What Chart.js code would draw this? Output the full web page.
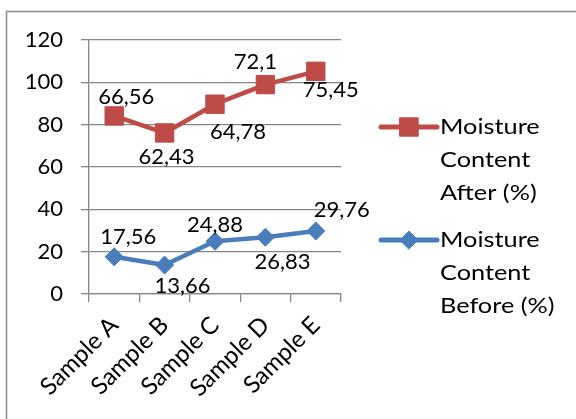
<!DOCTYPE html>
<html>
<head>
<meta charset="utf-8">
<script src="https://cdn.jsdelivr.net/npm/chart.js@4/dist/chart.umd.min.js"></script>
<style>
  html, body { margin: 0; padding: 0; background: #fff; }
  #wrap { width: 576px; height: 419px; position: relative; overflow: hidden; }
</style>
</head>
<body>
<div id="wrap"><canvas id="c" width="576" height="419"></canvas></div>
<script>
// Moisture content of five samples, before and after treatment (%)
const categories = ['Sample A', 'Sample B', 'Sample C', 'Sample D', 'Sample E'];
const moistureBefore = [17.56, 13.66, 24.88, 26.83, 29.76];
const moistureAfter = [66.56, 62.43, 64.78, 72.1, 75.45];
const yTicks = [0, 20, 40, 60, 80, 100, 120];
const nameBefore = ['Moisture', 'Content', 'Before (%)'];
const nameAfter = ['Moisture', 'Content', 'After (%)'];

// Value-label placement around each point (pixels from the point centre)
const labelShiftBefore = [[14, -20], [18, 21], [0, -16], [17, 25], [26, -21]];
const labelShiftAfter = [[12, -19], [2, 24], [23, 28], [-10, -23], [15, 19]];

const FAMILY = 'Lato, "Noto Sans", sans-serif';
const FONT = { family: FAMILY, size: 22 };
const WORD_FONT = { family: FAMILY, size: 24 };
const TEXT = '#000000';
const GRID = '#868686';
const RED = '#BE4B48';
const BLUE = '#4A7EBB';

const fmt = v => String(v).replace('.', ',');

// Grey frame around the whole chart
const framePlugin = {
  id: 'frame',
  beforeDraw(chart) {
    const ctx = chart.ctx;
    ctx.save();
    ctx.strokeStyle = '#8c8c8c';
    ctx.lineWidth = 1.5;
    ctx.strokeRect(6.5, 11.5, 700, 600);
    ctx.restore();
  }
};

// Value labels next to the points
const valueLabels = {
  id: 'valueLabels',
  afterDatasetsDraw(chart) {
    const ctx = chart.ctx;
    ctx.save();
    ctx.font = `${FONT.size}px ${FONT.family}`;
    ctx.fillStyle = TEXT;
    ctx.textAlign = 'center';
    ctx.textBaseline = 'middle';
    chart.data.datasets.forEach((ds, di) => {
      const meta = chart.getDatasetMeta(di);
      meta.data.forEach((pt, i) => {
        const [dx, dy] = ds.labelShift[i];
        ctx.fillText(fmt(ds.data[i]), pt.x + dx, pt.y + dy);
      });
    });
    ctx.restore();
  }
};

// Legend on the right with wrapped series names (stack top first)
const sideLegend = {
  id: 'sideLegend',
  afterDraw(chart) {
    const ctx = chart.ctx;
    const order = [1, 0];
    const x0 = 381, x1 = 437, tx = 440;
    const tops = [127, 240];
    const lineH = 33;
    const stretch = 1.15;
    ctx.save();
    order.forEach((di, k) => {
      const ds = chart.data.datasets[di];
      const y = tops[k];
      ctx.strokeStyle = ds.borderColor;
      ctx.lineWidth = ds.borderWidth + 0.5;
      ctx.lineCap = 'round';
      ctx.beginPath();
      ctx.moveTo(x0, y);
      ctx.lineTo(x1, y);
      ctx.stroke();
      ctx.fillStyle = ds.pointBackgroundColor;
      ctx.strokeStyle = ds.pointBorderColor;
      ctx.lineWidth = ds.pointBorderWidth;
      Chart.helpers.drawPoint(ctx, { pointStyle: ds.pointStyle, radius: ds.pointRadius, rotation: 0, borderWidth: ds.pointBorderWidth }, (x0 + x1) / 2, y);
      ctx.fillStyle = TEXT;
      ctx.font = `${FONT.size}px ${FONT.family}`;
      ctx.textAlign = 'left';
      ctx.textBaseline = 'middle';
      ds.legendLines.forEach((t, j) => {
        ctx.save();
        ctx.translate(tx, y + j * lineH);
        ctx.scale(stretch, 1);
        ctx.fillText(t, 0, 0);
        ctx.restore();
      });
    });
    ctx.restore();
  }
};

new Chart(document.getElementById('c'), {
  type: 'line',
  data: {
    labels: categories,
    datasets: [
      {
        label: nameBefore.join(' '),
        legendLines: nameBefore,
        labelShift: labelShiftBefore,
        data: moistureBefore,
        borderColor: BLUE,
        backgroundColor: BLUE,
        borderWidth: 4.5,
        borderJoinStyle: 'round',
        pointStyle: 'rectRot',
        pointRadius: 9,
        pointBackgroundColor: BLUE,
        pointBorderColor: BLUE,
        pointBorderWidth: 1,
        fill: false,
        tension: 0
      },
      {
        label: nameAfter.join(' '),
        legendLines: nameAfter,
        labelShift: labelShiftAfter,
        data: moistureAfter,
        borderColor: RED,
        backgroundColor: RED,
        borderWidth: 4.5,
        borderJoinStyle: 'round',
        pointStyle: 'rect',
        pointRadius: 13,
        pointBackgroundColor: RED,
        pointBorderColor: RED,
        pointBorderWidth: 1,
        fill: false,
        tension: 0
      }
    ]
  },
  options: {
    responsive: false,
    animation: false,
    devicePixelRatio: 1,
    layout: { padding: { top: 40, right: 235, left: 0, bottom: 0 } },
    plugins: {
      legend: { display: false },
      tooltip: { enabled: false }
    },
    scales: {
      x: {
        offset: true,
        grid: { offset: true, drawOnChartArea: false, color: GRID, tickLength: 8, lineWidth: 1.3 },
        border: { color: GRID, width: 1.3 },
        ticks: { font: WORD_FONT, color: TEXT, minRotation: 45, maxRotation: 45, padding: 9 },
        afterFit(s) { s.height = 125; }
      },
      y: {
        stacked: true,
        min: yTicks[0],
        max: yTicks[yTicks.length - 1],
        afterBuildTicks(s) { s.ticks = yTicks.map(v => ({ value: v })); },
        grid: { color: GRID, tickLength: 8, lineWidth: 1.3 },
        border: { color: GRID, width: 1.3 },
        ticks: { font: FONT, color: TEXT, padding: 18 },
        afterFit(s) { s.width = 89; }
      }
    }
  },
  plugins: [framePlugin, valueLabels, sideLegend]
});
</script>
</body>
</html>
